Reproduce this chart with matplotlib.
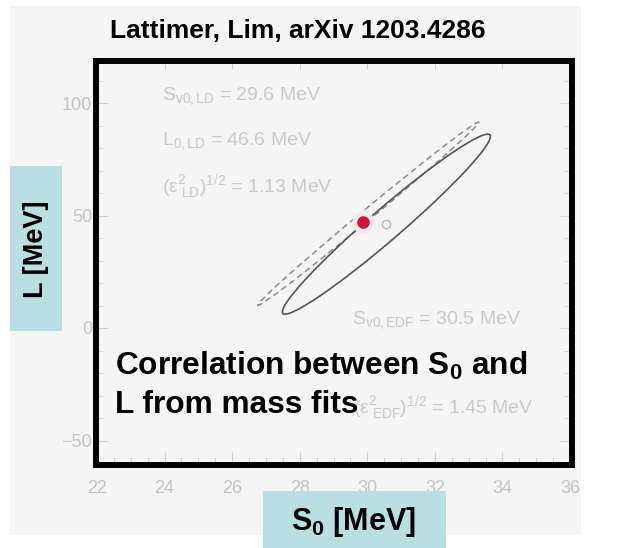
import numpy as np
import matplotlib
matplotlib.use('Agg')
import matplotlib.pyplot as plt
import matplotlib.patches as mpatches
import matplotlib.ticker as ticker
from matplotlib.transforms import Affine2D

##===================================================================
# values
##===================================================================
s0_ticks = [22, 24, 26, 28, 30, 32, 34, 36]
l_ticks = [-50, 0, 50, 100]
s0_range = [22, 36]
l_range = [-60, 120]

# EDF fit (solid ellipse): tips of the long axis + half-width vector
edf_tip_lo = [27.50, 6.5]
edf_tip_hi = [33.63, 85.8]
edf_halfwidth = [0.30, -5.3]
edf_center = [30.56, 46.1]

# LD fit (dashed, very narrow ellipse)
ld_tip_lo = [26.76, 10.1]
ld_tip_hi = [33.30, 91.5]
ld_halfwidth = [0.10, -1.8]

red_point = [29.87, 47.0]

ld_labels = [r'$\mathrm{S_{v0,LD}}$ = 29.6 MeV',
             r'$\mathrm{L_{0,LD}}$ = 46.6 MeV',
             r'$\mathrm{(\epsilon^2_{\ LD})^{1/2}}$ = 1.13 MeV']
edf_labels = [r'$\mathrm{S_{v0,EDF}}$ = 30.5 MeV',
              r'$\mathrm{(\epsilon^2_{\ EDF})^{1/2}}$ = 1.45 MeV']

##===================================================================
plt.rcParams['font.family'] = 'Liberation Sans'
plt.rcParams['mathtext.fontset'] = 'custom'
plt.rcParams['mathtext.rm'] = 'Liberation Sans'
plt.rcParams['mathtext.it'] = 'Liberation Sans:italic'
plt.rcParams['mathtext.bf'] = 'Liberation Sans:bold'

W, H = 630., 548.
def fx(px):
    return px / W
def fy(py):
    return 1 - py / H

fig = plt.figure(figsize=(6.3, 5.48), dpi=100)
fig.patch.set_facecolor('white')

# grey background of the pasted picture
fig.add_artist(mpatches.Rectangle((fx(10), fy(535)), fx(581) - fx(10), fy(6) - fy(535),
                                  transform=fig.transFigure, facecolor='#f5f5f5',
                                  edgecolor='none', zorder=0))

ax = fig.add_axes([fx(97), fy(463), fx(570) - fx(97), fy(58) - fy(463)])
ax.patch.set_visible(False)
ax.set_xlim(s0_range)
ax.set_ylim(l_range)
ax.set_xticks(s0_ticks)
ax.set_yticks(l_ticks)
ax.xaxis.set_minor_locator(ticker.MultipleLocator(0.5))
ax.yaxis.set_minor_locator(ticker.MultipleLocator(10))
ax.tick_params(which='both', direction='in', top=True, right=True, color='#d2d2d2',
               labelcolor='#c4c4c4', labelsize=13)
ax.tick_params(which='major', length=8)
ax.tick_params(which='minor', length=4)
ax.tick_params(axis='x', pad=12)
for sp in ax.spines.values():
    sp.set_color('#d2d2d2')

# ellipses given by the long-axis tips and a half-width vector
def conj_ellipse(tip_lo, tip_hi, half, **kw):
    cx = (tip_lo[0] + tip_hi[0]) / 2.
    cy = (tip_lo[1] + tip_hi[1]) / 2.
    ax_x = (tip_hi[0] - tip_lo[0]) / 2.
    ax_y = (tip_hi[1] - tip_lo[1]) / 2.
    tr = Affine2D(np.array([[ax_x, half[0], cx], [ax_y, half[1], cy], [0, 0, 1]]))
    e = mpatches.Ellipse((0, 0), 2, 2, fill=False, transform=tr + ax.transData, **kw)
    ax.add_patch(e)
    return e

conj_ellipse(ld_tip_lo, ld_tip_hi, ld_halfwidth, edgecolor='#8c8c8c', lw=1.1,
             linestyle=(0, (4, 2.5)))
conj_ellipse(edf_tip_lo, edf_tip_hi, edf_halfwidth, edgecolor='#555555', lw=1.2)

ax.plot(edf_center[0], edf_center[1], 'o', mfc='none', mec='#b8b8b8', ms=6, mew=1)
ax.plot(red_point[0], red_point[1], 'o', color='#f6e8ec', ms=15, zorder=4)
ax.plot(red_point[0], red_point[1], 'o', color='#d0143c', ms=8, zorder=5)

# faint labels of the original figure
for i, s in enumerate(ld_labels):
    ax.text(fx(162), fy(96 + i * 45.5), s, transform=fig.transFigure, fontsize=14,
            color='#cacaca', va='center', ha='left')
ax.text(fx(352), fy(320), edf_labels[0], transform=fig.transFigure, fontsize=14,
        color='#cacaca', va='center', ha='left')
ax.text(fx(353), fy(408), edf_labels[1], transform=fig.transFigure, fontsize=14,
        color='#cacaca', va='center', ha='left')

# thick black frame drawn on the slide
fig.add_artist(mpatches.Rectangle((fx(95.5), fy(465)), fx(571.5) - fx(95.5), fy(60.5) - fy(465),
                                  transform=fig.transFigure, fill=False,
                                  edgecolor='black', lw=4.3, zorder=5))

# slide texts
fig.text(fx(110), fy(38), 'Lattimer, Lim, arXiv 1203.4286', fontsize=19,
         fontweight='bold', ha='left', va='baseline')
fig.text(fx(115), fy(375), r'Correlation between $\mathbf{S_0}$ and', fontsize=22.8,
         fontweight='bold', ha='left', va='baseline', zorder=6)
fig.text(fx(115), fy(413), 'L from mass fits', fontsize=22.8,
         fontweight='bold', ha='left', va='baseline', zorder=6)

# light blue axis label boxes
fig.add_artist(mpatches.Rectangle((fx(10), fy(331)), fx(62) - fx(10), fy(166) - fy(331),
                                  transform=fig.transFigure, facecolor='#b9dfe3',
                                  edgecolor='none', zorder=5))
fig.text(fx(36), fy(249), 'L [MeV]', rotation=90, fontsize=19.5, fontweight='bold',
         ha='center', va='center', zorder=6)
fig.add_artist(mpatches.Rectangle((fx(263), fy(548)), fx(446) - fx(263), fy(491) - fy(548),
                                  transform=fig.transFigure, facecolor='#b9dfe3',
                                  edgecolor='none', zorder=5))
fig.text(fx(354), fy(522), r'$\mathbf{S_0}$ [MeV]', fontsize=22, fontweight='bold',
         ha='center', va='center', zorder=6)

plt.savefig('out.png', dpi=100)
